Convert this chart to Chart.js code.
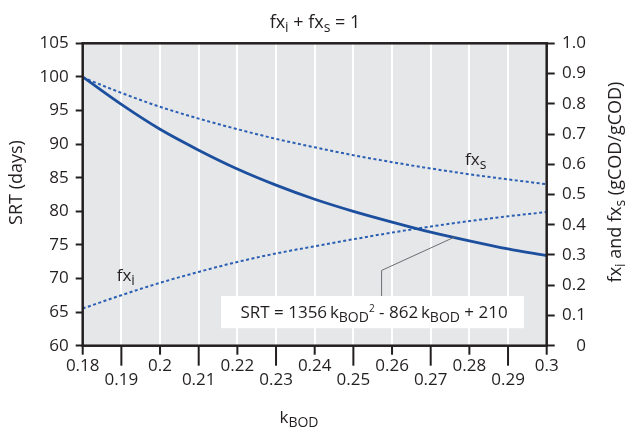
<!DOCTYPE html>
<html>
<head>
<meta charset="utf-8">
<script src="https://cdn.jsdelivr.net/npm/chart.js@4.4.1/dist/chart.umd.min.js"></script>
<style>
  html, body { margin: 0; padding: 0; background: #fff; }
  #wrap { width: 627px; height: 428px; }
</style>
</head>
<body>
<div id="wrap"><canvas id="chart" width="627" height="428"></canvas></div>
<script>
// values
const kBod = [0.18, 0.19, 0.20, 0.21, 0.22, 0.23, 0.24, 0.25, 0.26, 0.27, 0.28, 0.29, 0.30];
const srtDays = [100, 95.9, 92.2, 89.1, 86.3, 83.9, 81.8, 80.0, 78.4, 76.9, 75.6, 74.4, 73.4];
const fxS = [0.887, 0.836, 0.790, 0.751, 0.716, 0.684, 0.656, 0.630, 0.607, 0.586, 0.567, 0.550, 0.534];
const fxI = [0.123, 0.167, 0.208, 0.244, 0.277, 0.305, 0.329, 0.352, 0.374, 0.394, 0.412, 0.428, 0.442];

const xTicks = [0.18, 0.19, 0.20, 0.21, 0.22, 0.23, 0.24, 0.25, 0.26, 0.27, 0.28, 0.29, 0.30];
const srtTicks = [60, 65, 70, 75, 80, 85, 90, 95, 100, 105];
const fracTicks = [0, 0.1, 0.2, 0.3, 0.4, 0.5, 0.6, 0.7, 0.8, 0.9, 1.0];
const fracLabels = ['0', '0.1', '0.2', '0.3', '0.4', '0.5', '0.6', '0.7', '0.8', '0.9', '1.0'];

const FONT = '"Open Sans", "Noto Sans", sans-serif';
const INK = '#231f20';
const SOLID = '#1c4f9e';
const DOTTED = '#2a5fb3';

// text pieces: [text, 'sub'|'sup'|undefined]
function drawRich(ctx, parts, x, y, size, align) {
  const sizeOf = p => p[1] === 'sup' ? Math.round(size * 0.6) : (p[1] ? Math.round(size * 0.8) : size);
  let total = 0;
  parts.forEach(p => {
    ctx.font = sizeOf(p) + 'px ' + FONT;
    total += ctx.measureText(p[0]).width;
  });
  let cx = align === 'center' ? x - total / 2 : (align === 'right' ? x - total : x);
  ctx.textAlign = 'left';
  ctx.textBaseline = 'alphabetic';
  parts.forEach(p => {
    ctx.font = sizeOf(p) + 'px ' + FONT;
    const dy = p[1] === 'sub' ? 4 : (p[1] === 'sup' ? -6 : 0);
    ctx.fillText(p[0], cx, y + dy);
    cx += ctx.measureText(p[0]).width;
  });
}

const decor = {
  id: 'decor',
  beforeDraw(chart) {
    const { ctx, chartArea: a } = chart;
    ctx.save();
    ctx.fillStyle = '#e6e7e9';
    ctx.fillRect(a.left, a.top, a.right - a.left, a.bottom - a.top);
    ctx.restore();
  },
  afterDatasetsDraw(chart) {
    const { ctx, chartArea: a, scales } = chart;
    const x = scales.x, y = scales.y, y1 = scales.y1;
    ctx.save();

    // equation box and leader line
    const bx0 = x.getPixelForValue(0.2158), bx1 = x.getPixelForValue(0.2941);
    const by0 = y.getPixelForValue(67.4), by1 = y.getPixelForValue(62.6);
    ctx.fillStyle = '#fff';
    ctx.fillRect(bx0, by0, bx1 - bx0, by1 - by0);
    ctx.strokeStyle = '#6d6e71';
    ctx.lineWidth = 1;
    ctx.beginPath();
    ctx.moveTo(x.getPixelForValue(0.2763), y.getPixelForValue(76.2));
    ctx.lineTo(x.getPixelForValue(0.2573), y.getPixelForValue(71.2));
    ctx.lineTo(x.getPixelForValue(0.2573), by0);
    ctx.stroke();

    ctx.fillStyle = INK;
    drawRich(ctx, [['SRT = 1356\u2009k'], ['BOD', 'sub'], ['2', 'sup'], [' - 862\u2009k'], ['BOD', 'sub'], [' + 210']],
      x.getPixelForValue(0.2208), y.getPixelForValue(64.1), 17, 'left');

    // curve labels
    drawRich(ctx, [['fx'], ['i', 'sub']], x.getPixelForValue(0.1888), y.getPixelForValue(69.6), 17, 'left');
    drawRich(ctx, [['fx'], ['s', 'sub']], x.getPixelForValue(0.2789), y1.getPixelForValue(0.597), 17, 'left');

    // frame
    ctx.strokeStyle = INK;
    ctx.lineWidth = 2.5;
    ctx.strokeRect(a.left, a.top, a.right - a.left, a.bottom - a.top);

    // x tick marks, long ones under the staggered labels
    ctx.lineWidth = 2;
    xTicks.forEach((v, i) => {
      const px = x.getPixelForValue(v);
      ctx.beginPath();
      ctx.moveTo(px, a.bottom);
      ctx.lineTo(px, a.bottom + (i % 2 ? 20 : 9));
      ctx.stroke();
    });
    ctx.restore();
  },
  afterDraw(chart) {
    const { ctx, chartArea: a } = chart;
    ctx.save();
    ctx.fillStyle = INK;
    drawRich(ctx, [['fx'], ['i', 'sub'], [' + fx'], ['s', 'sub'], [' = 1']], 315, 28, 18, 'center');
    drawRich(ctx, [['k'], ['BOD', 'sub']], 299, 423, 17, 'center');

    ctx.translate(22, 182.5);
    ctx.rotate(-Math.PI / 2);
    drawRich(ctx, [['SRT (days)']], 0, 0, 18, 'center');
    ctx.restore();

    ctx.save();
    ctx.fillStyle = INK;
    ctx.translate(621, 182);
    ctx.rotate(-Math.PI / 2);
    drawRich(ctx, [['fx'], ['i', 'sub'], [' and fx'], ['s', 'sub'], [' (gCOD/gCOD)']], 0, 0, 18, 'center');
    ctx.restore();
  }
};

new Chart(document.getElementById('chart'), {
  type: 'line',
  data: {
    datasets: [
      {
        label: 'SRT',
        data: kBod.map((k, i) => ({ x: k, y: srtDays[i] })),
        yAxisID: 'y',
        borderColor: SOLID,
        borderWidth: 2.8,
        pointRadius: 0,
        cubicInterpolationMode: 'monotone'
      },
      {
        label: 'fxs',
        data: kBod.map((k, i) => ({ x: k, y: fxS[i] })),
        yAxisID: 'y1',
        borderColor: DOTTED,
        borderWidth: 2,
        borderDash: [3, 2.5],
        pointRadius: 0,
        cubicInterpolationMode: 'monotone'
      },
      {
        label: 'fxi',
        data: kBod.map((k, i) => ({ x: k, y: fxI[i] })),
        yAxisID: 'y1',
        borderColor: DOTTED,
        borderWidth: 2,
        borderDash: [3, 2.5],
        pointRadius: 0,
        cubicInterpolationMode: 'monotone'
      }
    ]
  },
  options: {
    responsive: false,
    animation: false,
    devicePixelRatio: 1,
    layout: { padding: { top: 43.3, right: 41, bottom: 0, left: 0 } },
    plugins: { legend: { display: false }, tooltip: { enabled: false } },
    scales: {
      x: {
        type: 'linear',
        min: 0.18,
        max: 0.3,
        afterBuildTicks: s => { s.ticks = xTicks.map(v => ({ value: v })); },
        afterFit: s => { s.height = 82.3; },
        grid: { color: '#fff', lineWidth: 2, drawTicks: false },
        border: { display: false },
        ticks: {
          autoSkip: false,
          maxRotation: 0,
          padding: 14.3,
          color: INK,
          font: { family: FONT, size: 17, lineHeight: 0.78 },
          callback: (v, i) => {
            const t = String(+v.toFixed(2));
            return i % 2 ? ['', t] : t;
          }
        }
      },
      y: {
        position: 'left',
        min: 60,
        max: 105,
        afterBuildTicks: s => { s.ticks = srtTicks.map(v => ({ value: v })); },
        afterFit: s => { s.width = 82.7; },
        grid: { drawOnChartArea: false, tickLength: 7, tickColor: INK, tickWidth: 2 },
        border: { display: false },
        ticks: { padding: 7, color: INK, font: { family: FONT, size: 17 } }
      },
      y1: {
        position: 'right',
        min: 0,
        max: 1,
        afterBuildTicks: s => { s.ticks = fracTicks.map(v => ({ value: v })); },
        afterFit: s => { s.width = 39.3; },
        grid: { drawOnChartArea: false, tickLength: 8, tickColor: INK, tickWidth: 2 },
        border: { display: false },
        ticks: {
          padding: 6,
          crossAlign: 'far',
          color: INK,
          font: { family: FONT, size: 17 },
          callback: (v, i) => fracLabels[i]
        }
      }
    }
  },
  plugins: [decor]
});
</script>
</body>
</html>
